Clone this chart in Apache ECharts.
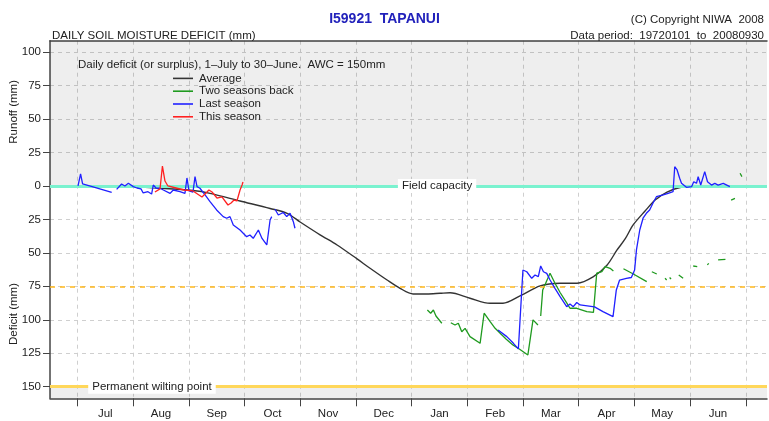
<!DOCTYPE html>
<html>
<head>
<meta charset="utf-8" />
<title>I59921 TAPANUI</title>
<script src="https://cdn.jsdelivr.net/npm/echarts@6/dist/echarts.min.js"></script>
<style>
  html, body { margin: 0; padding: 0; background: #fff; }
  #main { width: 769px; height: 421px; }
</style>
</head>
<body>
<div id="main"></div>
<script>
// x = day of season (0 = 1 July), y = deficit in mm (negative = runoff / surplus)
var monthNames = ['Jul', 'Aug', 'Sep', 'Oct', 'Nov', 'Dec', 'Jan', 'Feb', 'Mar', 'Apr', 'May', 'Jun'];
var yTicks = [-100, -75, -50, -25, 0, 25, 50, 75, 100, 125, 150];
var seriesNames = ['Average', 'Two seasons back', 'Last season', 'This season'];

var averageData = [
  [0, 0], [27, 0.5], [45.1, 1.7], [63.1, 3.4], [72.4, 5.5], [88.8, 11.2], [105.2, 16.8],
  [114.5, 20.4], [121.6, 26.9], [132.5, 36.5], [141.8, 44.1], [152.7, 54.5], [159.8, 61.5],
  [169.1, 70.3], [176.2, 76.5], [183.3, 80.7], [190.9, 80.7], [198, 80.2], [203.5, 79.8],
  [214.4, 83.9], [225.3, 87.7], [232.4, 87.7], [241.7, 82.2], [252.7, 74.7], [263.6, 72.7],
  [272.9, 72.7], [281.6, 68], [289.3, 59], [294.7, 47.8], [299.1, 39.6], [303.5, 29.1],
  [310, 18.7], [315.5, 10.5], [322, 4.5], [329.1, 1.1], [340, 0], [365, 0]
];

var twoBackData = [
  [191.1, 92.7], [192.9, 95.1], [194.4, 92.7], [195.8, 97.2], [199, 102.6], null,
  [203.9, 102.2], [206.2, 103.9], [208, 102.6], [209.9, 108.9], [211.7, 106.4], [214.4, 112.6],
  [219.9, 117.6], [222.1, 95.1], [225.4, 101.4], [228.1, 106.4], [234.2, 114.6], [237.8, 118.8],
  [241.5, 122], [246, 126.3], [248.8, 100.1], [251.5, 103.9], null,
  [253, 97.2], [254.1, 77.7], [258.1, 65.2], [260.8, 72.7], [263.6, 79.6], [267.2, 87.4],
  [269, 91.4], [272.7, 91.4], [278.2, 93.9], [281.8, 94.5], [283.6, 65.2], [286.4, 64.1],
  [288.2, 60.3], [290.9, 61.5], [292.7, 63.5], null,
  [298.2, 61.9], [303.6, 65.8], [310.9, 71.5], null,
  [313.7, 64.1], [316.4, 65.8], null,
  [320.9, 69], [321.8, 70.3], null,
  [323.4, 68.4], [324.2, 69.5], null,
  [328.4, 66.5], [330.8, 69], null,
  [336.3, 59.8], [338.5, 60.3], null,
  [344, 59], [344.8, 57.8], null,
  [349.9, 55.3], [353.9, 54.8], null,
  [357, 10.5], [359.1, 9.2], null,
  [361.9, -9.5], [362.9, -7]
];

var lastSeasonData = [
  [0.3, 0], [1.7, -9], [2.8, -1.5], [8.5, 0.7], [18.7, 4.7], null,
  [21.4, 2.5], [24.1, -1.5], [25.9, 0], [27.8, -2], [30.5, 0.5], [32.5, 1.5], [34.7, 2.2],
  [35.9, 5.2], [38.5, 4.3], [40.5, 6], [41.4, -0.7], [42.9, 1.5], [45.1, 1.7], [46.9, 3],
  [50.6, 5.5], [52.3, 3], [56, 4.3], [58.7, 5.5], [59.8, -6], [60.9, 3.7], [63.1, 4.5],
  [64.2, -7], [65.3, 0.5], [66.9, 1.7], [69.7, 6.7], [72.4, 11.7], [76, 17.9], [79.6, 22.9],
  [81.5, 24.1], [83.3, 22.9], [85.1, 29.1], [88.8, 32.9], [92.4, 37.9], [94.2, 36.6],
  [96, 39.1], [98.8, 32.9], [100.8, 39.2], [103.4, 44.1], [105.2, 25.4], [106.1, 22.9], null,
  [107.9, 17.4], [109.7, 21.7], [112.4, 19.8], [114.3, 22.9], [116.1, 20.4], [117.9, 26.7],
  [118.8, 31.6], null,
  [229.7, 107.6], [234.5, 112.6], [238.1, 117.6], [240.8, 121.8], [241.8, 122.2], [243.3, 62.8],
  [245.4, 64.1], [248.1, 69], [249.9, 66.5], [251.7, 67.8], [253, 59.8], [254.5, 64.1],
  [256.3, 65.3], [258.1, 70.3], [260.8, 76.5], [263.6, 82.7], [267.2, 90.2], [269, 88.2],
  [270.8, 90.2], [272.7, 87.1], [274.5, 88.9], [282.4, 90.4], [287, 93.9], [292.5, 97.7],
  [294.3, 77.7], [296.1, 70.3], [299.8, 69], [302.5, 68.4], [304.3, 62.8], [305.3, 47.8],
  [307.1, 32.9], [308.9, 24.1], [310.7, 20.4], [312.5, 17.9], [314.3, 12.9], [316.2, 8],
  [319.9, 6.7], [322.6, 5.5], [325.3, 4.3], [326.2, -14.4], [327.5, -12], [328.9, -5.8],
  [329.9, -2], [332.6, 1], [335.4, 0.5], [336.6, -3.2], [338.1, -2], [339, -7], [340.4, -0.7],
  [342.6, -10.7], [344.1, -3.2], [346.3, -0.7], [348.1, -2], [349.9, -0.7], [352.7, -2],
  [356.3, 0.5]
];

var thisSeasonData = [
  [42.3, 4.5], [45.1, 2.2], [46.4, -14.9], [47.8, -3.7], [49.4, 0], [53.8, 1.5], [58.2, 3],
  [63.1, 3.7], [68, 8.2], [70.2, 5.2], [71.8, 3], [73.5, 4.5], [76.2, 9], [78.9, 8.2],
  [82.2, 14.2], [83.9, 12.7], [85.5, 10.5], [87.1, 11.2], [88.8, 3], [89.9, -0.7], [90.4, -3]
];

var monthLen = 365 / 12;
var monthTicks = [];
var monthMids = [];
for (var i = 0; i <= 12; i++) monthTicks.push(i * monthLen);
for (var j = 0; j < 12; j++) monthMids.push((j + 0.5) * monthLen);

var FONT = '"Liberation Sans Narrow", "Liberation Sans", Arial, sans-serif';
var FS = 11.5;
var xMin = -15, xMax = 376.6, yMin = -108.6, yMax = 158.7;

var chart = echarts.init(document.getElementById('main'));

var option = {
  animation: false,
  textStyle: { fontFamily: FONT },
  title: [
    { text: 'I59921  TAPANUI', left: 'center', top: 7,
      textStyle: { color: '#2222bb', fontSize: 14, fontWeight: 'bold', fontFamily: FONT } },
    { text: 'DAILY SOIL MOISTURE DEFICIT (mm)', left: 47, top: 25,
      textStyle: { color: '#222', fontSize: FS, fontWeight: 'normal', fontFamily: FONT } },
    { text: '(C) Copyright NIWA  2008', right: 0, top: 9,
      textStyle: { color: '#222', fontSize: FS, fontWeight: 'normal', fontFamily: FONT } },
    { text: 'Data period:  19720101  to  20080930', right: 0, top: 25,
      textStyle: { color: '#222', fontSize: FS, fontWeight: 'normal', fontFamily: FONT } },
    { text: 'Daily deficit (or surplus), 1\u2013July to 30\u2013June.  AWC = 150mm', left: 73, top: 54,
      textStyle: { color: '#222', fontSize: FS, fontWeight: 'normal', fontFamily: FONT } }
  ],
  graphic: [
    { type: 'text', left: 8, top: 80, rotation: Math.PI / 2,
      style: { text: 'Runoff (mm)', fill: '#222', font: FS + 'px ' + FONT } },
    { type: 'text', left: 8, top: 283, rotation: Math.PI / 2,
      style: { text: 'Deficit (mm)', fill: '#222', font: FS + 'px ' + FONT } }
  ],
  legend: {
    data: seriesNames,
    orient: 'vertical',
    left: 168,
    top: 67,
    icon: 'rect',
    itemWidth: 20,
    itemHeight: 1.6,
    itemGap: 0,
    textStyle: { color: '#222', fontSize: FS, lineHeight: 12.8, fontFamily: FONT, padding: [0, 0, 0, 1] }
  },
  grid: { left: 50, right: 2, top: 40.7, bottom: 22.7 },
  xAxis: [{
    type: 'value', min: xMin, max: xMax,
    axisLine: { show: true, onZero: false, lineStyle: { color: '#444', width: 1.5 } },
    axisTick: { show: true, customValues: monthTicks, length: 8, lineStyle: { color: '#444', width: 1 } },
    axisLabel: {
      customValues: monthMids, margin: 10, color: '#222', fontSize: FS, fontFamily: FONT,
      formatter: function (v) { return monthNames[Math.round(v / monthLen - 0.5)] || ''; }
    },
    splitLine: { show: true, lineStyle: { color: '#cfcfcf', type: [4, 4], width: 1 } }
  }, {
    type: 'value', position: 'top', min: xMin, max: xMax,
    axisLine: { show: true, onZero: false, lineStyle: { color: '#444', width: 1.5 } },
    axisTick: { show: false }, axisLabel: { show: false }, splitLine: { show: false }
  }],
  yAxis: {
    type: 'value', inverse: true, min: yMin, max: yMax,
    axisLine: { show: true, onZero: false, lineStyle: { color: '#444', width: 1.5 } },
    axisTick: { show: true, customValues: yTicks, length: 7, lineStyle: { color: '#444', width: 1 } },
    axisLabel: {
      customValues: yTicks, margin: 9, color: '#222', fontSize: FS, fontFamily: FONT,
      formatter: function (v) { return String(Math.abs(v)); }
    },
    splitLine: { show: true, lineStyle: { color: '#cfcfcf', type: [4, 4], width: 1 } }
  },
  series: [
    {
      name: 'Average', type: 'line', data: averageData, smooth: 0.3,
      symbol: 'none', z: 3,
      lineStyle: { color: '#333333', width: 1.4 }, itemStyle: { color: '#333333' },
      markArea: {
        silent: true,
        itemStyle: { color: 'rgba(0,0,0,0.065)' },
        data: [
          [{ coord: [xMin, yMin] }, { coord: [xMax, 0] }],
          [{ coord: [xMin, 150] }, { coord: [xMax, yMax] }]
        ]
      },
      markLine: {
        silent: true, symbol: 'none', label: { show: false },
        data: [
          { yAxis: 0, lineStyle: { color: '#7af2cf', width: 3, type: 'solid' } },
          { yAxis: 75, lineStyle: { color: '#ffb81c', width: 1.5, type: [5, 5] } },
          { yAxis: 150, lineStyle: { color: '#ffd75a', width: 3, type: 'solid' } }
        ]
      },
      markPoint: {
        silent: true, symbol: 'rect', symbolSize: 1,
        itemStyle: { color: 'rgba(0,0,0,0)' },
        label: {
          show: true, position: 'inside', color: '#222', fontSize: FS, fontFamily: FONT,
          backgroundColor: '#ffffff', padding: [1, 4],
          formatter: function (p) { return p.name; }
        },
        data: [
          { name: 'Field capacity', coord: [196.4, 0] },
          { name: 'Permanent wilting point', coord: [40.7, 150] }
        ]
      }
    },
    {
      name: 'Two seasons back', type: 'line', data: twoBackData, symbol: 'none', z: 4,
      connectNulls: false,
      lineStyle: { color: '#1f9a1f', width: 1.3 }, itemStyle: { color: '#1f9a1f' }
    },
    {
      name: 'Last season', type: 'line', data: lastSeasonData, symbol: 'none', z: 5,
      connectNulls: false,
      lineStyle: { color: '#2020ff', width: 1.3 }, itemStyle: { color: '#2020ff' }
    },
    {
      name: 'This season', type: 'line', data: thisSeasonData, symbol: 'none', z: 6,
      lineStyle: { color: '#ff2020', width: 1.3 }, itemStyle: { color: '#ff2020' }
    }
  ]
};

chart.setOption(option);
</script>
</body>
</html>
